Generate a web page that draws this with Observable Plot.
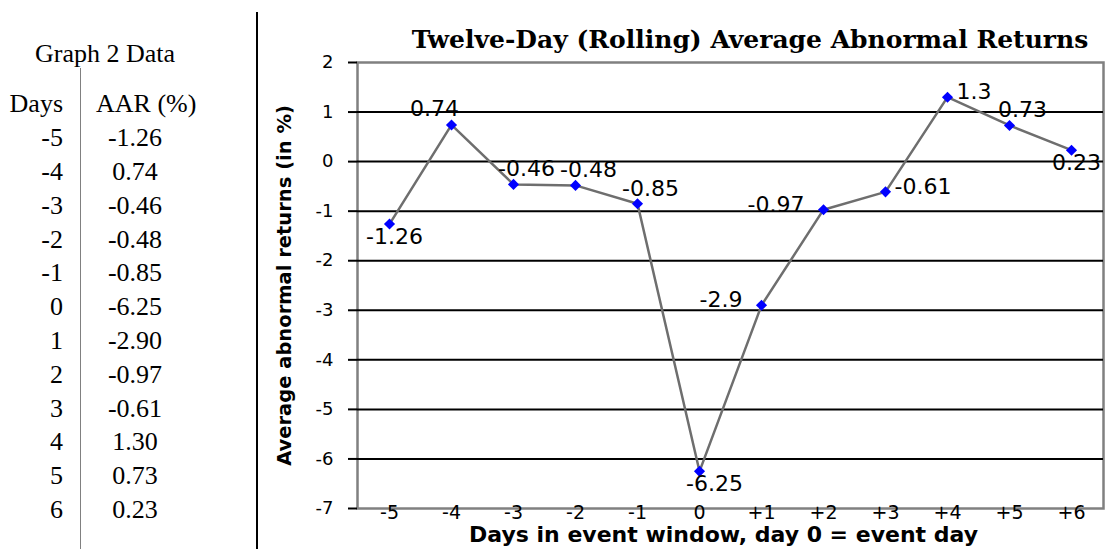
<!DOCTYPE html>
<html>
<head>
<meta charset="utf-8">
<script src="https://cdn.jsdelivr.net/npm/d3@7"></script>
<script src="https://cdn.jsdelivr.net/npm/@observablehq/plot@0.6"></script>
<style>
  html, body { margin: 0; padding: 0; background: #fff; }
  body { width: 1106px; height: 549px; position: relative; overflow: hidden; }
  .tbl { position: absolute; font-family: "Liberation Serif", "Times New Roman", serif; font-size: 26px; line-height: 33.8px; color: #000; white-space: nowrap; }
  #title { position: absolute; left: 357px; width: 786px; top: 28px; text-align: center; font-family: "DejaVu Serif", serif; font-weight: bold; font-size: 25px; line-height: 24px; color: #000; white-space: nowrap; }
  #chart { position: absolute; left: 256px; top: 50px; }
  #sep { position: absolute; left: 256px; top: 12px; width: 2px; height: 537px; background: #000; }
  #tsep { position: absolute; left: 79.5px; top: 68px; width: 1.5px; height: 481px; background: #808080; }
</style>
</head>
<body>
<div id="sep"></div>
<div id="tsep"></div>
<div id="title"></div>
<div id="chart"></div>
<script>
// ---- data ----
const days = [-5, -4, -3, -2, -1, 0, 1, 2, 3, 4, 5, 6];
const aar = [-1.26, 0.74, -0.46, -0.48, -0.85, -6.25, -2.90, -0.97, -0.61, 1.30, 0.73, 0.23];
const yTicks = [2, 1, 0, -1, -2, -3, -4, -5, -6, -7];
const gridValues = [1, 0, -1, -2, -3, -4, -5, -6];
const labelPlacement = ["below", "aboveLeft", "aboveRight", "aboveRight", "aboveRight", "belowRight",
                        "left", "left", "right", "right", "aboveRight", "below"];
const titleText = "Twelve-Day (Rolling) Average Abnormal Returns";
const xLabel = "Days in event window, day 0 = event day";
const yLabel = "Average abnormal returns (in %)";
const tableTitle = "Graph 2 Data";
const colHeaders = ["Days", "AAR (%)"];

// ---- table (left) ----
function addDiv(text, css) {
  const el = document.createElement("div");
  el.className = "tbl";
  el.textContent = text;
  Object.assign(el.style, css);
  document.body.appendChild(el);
}
addDiv(tableTitle, {left: "0px", width: "210px", textAlign: "center", top: "37.2px"});
addDiv(colHeaders[0], {left: "0px", width: "63px", textAlign: "right", top: "87.2px"});
addDiv(colHeaders[1], {left: "96px", width: "100px", textAlign: "center", top: "87.2px"});
days.forEach((d, i) => {
  const top = 121.2 + i * 33.8;
  addDiv(String(d), {left: "0px", width: "63px", textAlign: "right", top: top + "px"});
  addDiv(aar[i].toFixed(2), {left: "85px", width: "100px", textAlign: "center", top: top + "px"});
});

document.getElementById("title").textContent = titleText;

// ---- chart ----
const data = days.map((d, i) => ({day: d, aar: aar[i], pos: labelPlacement[i]}));
const placements = {
  below:      {dx: 5,   dy: 13,  textAnchor: "middle"},
  belowRight: {dx: 15,  dy: 13,  textAnchor: "middle"},
  aboveLeft:  {dx: -17, dy: -16, textAnchor: "middle"},
  aboveRight: {dx: 13,  dy: -15, textAnchor: "middle"},
  left:       {dx: -19, dy: -5,  textAnchor: "end"},
  right:      {dx: 9,   dy: -5,  textAnchor: "start"}
};
const labelMarks = Object.entries(placements).map(([k, o]) =>
  Plot.text(data.filter(d => d.pos === k), {
    x: "day", y: "aar", text: d => String(d.aar),
    ...o, lineAnchor: "middle", fontSize: 22, fontFamily: "DejaVu Sans", fill: "#000"
  })
);

const chart = Plot.plot({
  width: 850,
  height: 499,
  marginLeft: 101,
  marginRight: 3,
  marginTop: 12,
  marginBottom: 41,
  style: {fontFamily: "DejaVu Sans", color: "#000", background: "transparent", overflow: "visible"},
  x: {type: "point", domain: days, padding: 0.5, label: null},
  y: {domain: [-7, 2], label: null},
  marks: [
    Plot.frame({stroke: "#808080", strokeWidth: 2.5}),
    Plot.ruleY(gridValues, {stroke: "#000", strokeWidth: 2}),
    Plot.axisY({ticks: yTicks, tickSize: 9, tickPadding: 15, tickFormat: d => String(d),
                fontSize: 18, label: null, strokeWidth: 2, stroke: "#000"}),
    Plot.axisX({tickSize: 0, tickPadding: -3, tickFormat: d => d > 0 ? "+" + d : String(d),
                fontSize: 19, label: null}),
    Plot.line(data, {x: "day", y: "aar", stroke: "#6e6e6e", strokeWidth: 2.5}),
    Plot.dot(data, {x: "day", y: "aar", symbol: "diamond2", r: 5, fill: "#0000ff", stroke: "none"}),
    ...labelMarks,
    Plot.text([yLabel], {frameAnchor: "left", rotate: -90, dx: -73, text: d => d,
                         textAnchor: "middle", lineAnchor: "middle",
                         fontSize: 19.5, fontWeight: "bold", fill: "#000"}),
    Plot.text([xLabel], {frameAnchor: "bottom", dx: -7, dy: 26, text: d => d,
                         textAnchor: "middle", lineAnchor: "middle",
                         fontSize: 22, fontWeight: "bold", fill: "#000"})
  ]
});
document.getElementById("chart").appendChild(chart);
</script>
</body>
</html>
